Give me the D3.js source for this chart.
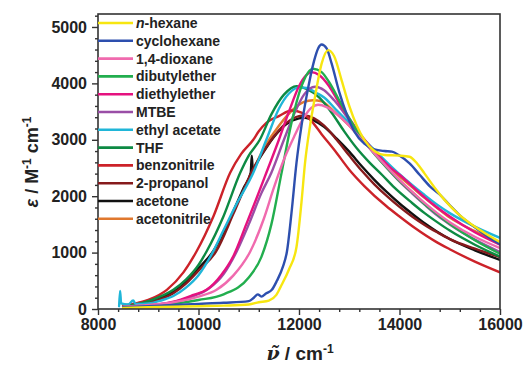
<!DOCTYPE html>
<html>
<head>
<meta charset="utf-8">
<script src="https://cdn.jsdelivr.net/npm/d3@7/dist/d3.min.js"></script>
<style>
  html, body { margin: 0; padding: 0; background: #fff; }
  svg { display: block; font-family: "Liberation Sans", Arial, sans-serif; }
</style>
</head>
<body>
<svg id="chart" width="525" height="366"></svg>
<script>
// ---- data (wavenumber cm^-1, epsilon M^-1 cm^-1) ----
const seriesNames = ["n-hexane","cyclohexane","1,4-dioxane","dibutylether","diethylether","MTBE",
  "ethyl acetate","THF","benzonitrile","2-propanol","acetone","acetonitrile"];
const seriesColors = ["#f7e610","#2d4fae","#f06aae","#22ae4e","#e5117f","#9a4ea6",
  "#20b6d8","#0d8a43","#cc2229","#861a1c","#111111","#e0782e"];

const hexane = [[8500,20],[9000,30],[9500,40],[10000,50],[10500,60],[11000,80],[11200,120],[11400,150],[11550,250],[11650,420],[11800,700],[11950,1100],[12050,1900],[12120,2590],[12220,3250],[12320,3770],[12450,4350],[12580,4590],[12700,4480],[12850,4050],[13000,3600],[13150,3250],[13300,3000],[13500,2800],[13700,2730],[14000,2720],[14200,2700],[14350,2580],[14500,2400],[14700,2150],[14900,1930],[15150,1700],[15400,1520],[15600,1400],[15800,1290],[16000,1190]];
const cyclohexane = [[8500,30],[9000,50],[9500,70],[10000,90],[10500,110],[11000,140],[11100,200],[11180,260],[11250,220],[11350,280],[11460,340],[11560,500],[11680,750],[11760,1020],[11850,1700],[11950,2590],[12050,3250],[12150,3770],[12300,4400],[12380,4620],[12450,4690],[12550,4620],[12650,4350],[12800,3850],[12950,3450],[13100,3150],[13300,2930],[13500,2830],[13700,2800],[13850,2790],[14000,2720],[14200,2580],[14400,2380],[14600,2180],[14800,2030],[15000,1840],[15200,1660],[15500,1450],[15800,1260],[16000,1150]];
const dioxane = [[8500,40],[9000,70],[9500,120],[10000,220],[10360,340],[10700,600],[11030,1020],[11300,1600],[11500,2150],[11700,2650],[11900,3050],[12100,3400],[12250,3570],[12380,3620],[12550,3580],[12800,3420],[13000,3250],[13250,3000],[13500,2760],[13750,2520],[14000,2290],[14250,2080],[14500,1880],[14750,1700],[15000,1540],[15500,1280],[16000,1080]];
const dibutylether = [[8500,30],[9000,50],[9500,90],[10000,160],[10500,260],[11000,560],[11250,920],[11450,1500],[11650,2400],[11850,3300],[12050,3950],[12280,4260],[12450,4200],[12600,4020],[12800,3700],[13000,3380],[13250,3030],[13500,2750],[13750,2500],[14000,2270],[14250,2070],[14500,1860],[14750,1680],[15000,1510],[15500,1220],[16000,980]];
const diethylether = [[8500,30],[9000,60],[9500,130],[9900,250],[10160,340],[10450,600],[10700,950],[10950,1500],[11150,1950],[11350,2415],[11600,3000],[11800,3500],[12000,3950],[12150,4150],[12250,4200],[12400,4150],[12600,3950],[12800,3650],[13000,3380],[13350,2950],[13600,2700],[13800,2520],[14000,2380],[14250,2180],[14500,1980],[14750,1800],[15000,1640],[15500,1360],[16000,1140]];
const mtbe = [[8500,30],[9000,60],[9500,120],[9900,230],[10200,360],[10500,620],[10760,1020],[11000,1500],[11250,2050],[11450,2415],[11700,3000],[11900,3450],[12100,3800],[12320,3940],[12500,3880],[12700,3700],[13000,3350],[13250,3040],[13500,2760],[13750,2500],[14000,2260],[14250,2050],[14500,1850],[14750,1660],[15000,1500],[15500,1230],[16000,1010]];
const ethylAcetate = [[8420,50],[8440,320],[8460,100],[8600,80],[8700,150],[8750,90],[9000,100],[9250,150],[9500,230],[9750,380],[10000,600],[10250,950],[10500,1400],[10750,1850],[11090,2415],[11350,3000],[11600,3550],[11800,3820],[12000,3930],[12150,3920],[12350,3830],[12500,3750],[12750,3520],[13000,3300],[13250,3050],[13500,2820],[13750,2600],[14000,2390],[14250,2200],[14500,2020],[14750,1850],[15000,1700],[15500,1460],[16000,1260]];
const thf = [[8500,40],[9000,140],[9500,340],[9750,520],[10000,780],[10160,1020],[10500,1650],[10830,2415],[11000,2720],[11220,3000],[11450,3450],[11700,3800],[11950,3950],[12150,3900],[12400,3750],[12650,3480],[12900,3150],[13150,2850],[13400,2600],[13650,2380],[13900,2150],[14250,1880],[14500,1700],[14750,1540],[15000,1390],[15500,1140],[16000,930]];
const benzonitrile = [[8500,60],[9000,160],[9370,340],[9700,650],[9960,1020],[10300,1650],[10630,2415],[10850,2750],[11090,3000],[11200,3150],[11350,3300],[11600,3420],[11850,3520],[12050,3480],[12250,3330],[12450,3100],[12720,2800],[13000,2470],[13300,2180],[13730,1830],[14000,1640],[14300,1440],[14730,1190],[15000,1060],[15500,840],[16000,650]];
const propanol = [[8500,50],[9000,110],[9500,280],[9750,450],[10000,680],[10350,1020],[10700,1700],[11050,2415],[11450,3000],[11750,3300],[12000,3420],[12100,3430],[12300,3380],[12500,3250],[12750,3000],[13000,2720],[13250,2450],[13500,2210],[13750,2000],[14000,1810],[14250,1640],[14500,1490],[14750,1360],[15000,1240],[15500,1070],[16000,920]];
const acetone = [[8500,50],[9000,120],[9300,220],[9630,380],[10000,720],[10290,1020],[10600,1550],[10900,2150],[11040,2420],[11060,2720],[11080,2480],[11200,2650],[11500,3050],[11750,3280],[12000,3380],[12120,3390],[12300,3340],[12500,3230],[12750,3020],[13000,2790],[13250,2530],[13500,2290],[13750,2070],[14000,1870],[14250,1690],[14500,1520],[14750,1370],[15000,1240],[15500,1040],[16000,870]];
const acetonitrile = [[8500,60],[9000,150],[9500,300],[10000,700],[10300,1020],[10650,1650],[11000,2300],[11300,2850],[11600,3250],[11900,3550],[12100,3670],[12280,3700],[12450,3680],[12700,3500],[13000,3250],[13250,3010],[13500,2780],[13750,2560],[14000,2350],[14250,2160],[14500,1970],[14750,1790],[15000,1620],[15500,1380],[16000,1170]];

const seriesData = [hexane, cyclohexane, dioxane, dibutylether, diethylether, mtbe,
  ethylAcetate, thf, benzonitrile, propanol, acetone, acetonitrile];

const xMajor = [8000,10000,12000,14000,16000];
const yMajor = [0,1000,2000,3000,4000,5000];

// ---- chart ----
const svg = d3.select("#chart");
const L = 98, R = 500, T = 14, B = 309;
const x = d3.scaleLinear().domain([8000,16000]).range([L,R]);
const y = d3.scaleLinear().domain([0,5230]).range([B,T]);

const xMinor = d3.range(8000, 16001, 400).filter(v => !xMajor.includes(v));
const yMinor = d3.range(0, 5201, 200).filter(v => !yMajor.includes(v));

svg.append("defs").append("clipPath").attr("id","clip")
  .append("rect").attr("x",L).attr("y",T).attr("width",R-L).attr("height",B-T);

// lines
const line = d3.line().x(d => x(d[0])).y(d => y(d[1])).curve(d3.curveMonotoneX);
const g = svg.append("g").attr("clip-path","url(#clip)");
for (let i = seriesData.length - 1; i >= 0; i--) {
  g.append("path").datum(seriesData[i])
    .attr("d", line).attr("fill","none")
    .attr("stroke", seriesColors[i]).attr("stroke-width", 2.4)
    .attr("stroke-linejoin","round").attr("stroke-linecap","round");
}

// frame
svg.append("rect").attr("x",L).attr("y",T).attr("width",R-L).attr("height",B-T)
  .attr("fill","none").attr("stroke","#333").attr("stroke-width",1.6);

const styleAxis = sel => {
  sel.select(".domain").remove();
  sel.selectAll("line").attr("stroke","#333").attr("stroke-width",1.4);
  sel.selectAll("text").attr("fill","#222").attr("font-size","16px").attr("font-weight","bold")
    .attr("font-family","'Liberation Sans', Arial, sans-serif");
};

svg.append("g").attr("transform",`translate(0,${B})`)
  .call(d3.axisBottom(x).tickValues(xMajor).tickSize(6).tickPadding(4).tickFormat(d3.format("d")))
  .call(styleAxis);
svg.append("g").attr("transform",`translate(0,${B})`)
  .call(d3.axisBottom(x).tickValues(xMinor).tickSize(3).tickFormat(""))
  .call(styleAxis);
svg.append("g").attr("transform",`translate(${L},0)`)
  .call(d3.axisLeft(y).tickValues(yMajor).tickSize(6).tickPadding(5).tickFormat(d3.format("d")))
  .call(styleAxis);
svg.append("g").attr("transform",`translate(${L},0)`)
  .call(d3.axisLeft(y).tickValues(yMinor).tickSize(3).tickFormat(""))
  .call(styleAxis);

// legend
const leg = svg.append("g");
seriesNames.forEach((name, i) => {
  const yy = 23 + i * 17.8;
  leg.append("line").attr("x1", L).attr("x2", 133).attr("y1", yy).attr("y2", yy)
    .attr("stroke", seriesColors[i]).attr("stroke-width", 2.6);
  const t = leg.append("text").attr("x", 136).attr("y", yy).attr("dy","0.35em")
    .attr("font-size","14px").attr("font-weight","bold").attr("fill","#222");
  if (name.startsWith("n-")) {
    t.append("tspan").attr("font-style","italic").text("n");
    t.append("tspan").text(name.slice(1));
  } else t.text(name);
});

// axis titles
const xt = svg.append("text").attr("x", 300).attr("y", 360).attr("text-anchor","middle")
  .attr("font-size","19px").attr("font-weight","bold").attr("fill","#222");
xt.append("tspan").attr("font-style","italic").attr("font-family","'DejaVu Serif', serif").text("ν\u0303");
xt.append("tspan").text(" / cm");
xt.append("tspan").attr("dy",-7).attr("font-size","12px").text("-1");

const yt = svg.append("text").attr("transform","translate(38,162) rotate(-90)")
  .attr("text-anchor","middle").attr("font-size","18px").attr("font-weight","bold").attr("fill","#222");
yt.append("tspan").attr("font-style","italic").text("ε");
yt.append("tspan").text(" / M");
yt.append("tspan").attr("dy",-7).attr("font-size","12px").text("-1");
yt.append("tspan").attr("dy",7).text(" cm");
yt.append("tspan").attr("dy",-7).attr("font-size","12px").text("-1");
</script>
</body>
</html>
